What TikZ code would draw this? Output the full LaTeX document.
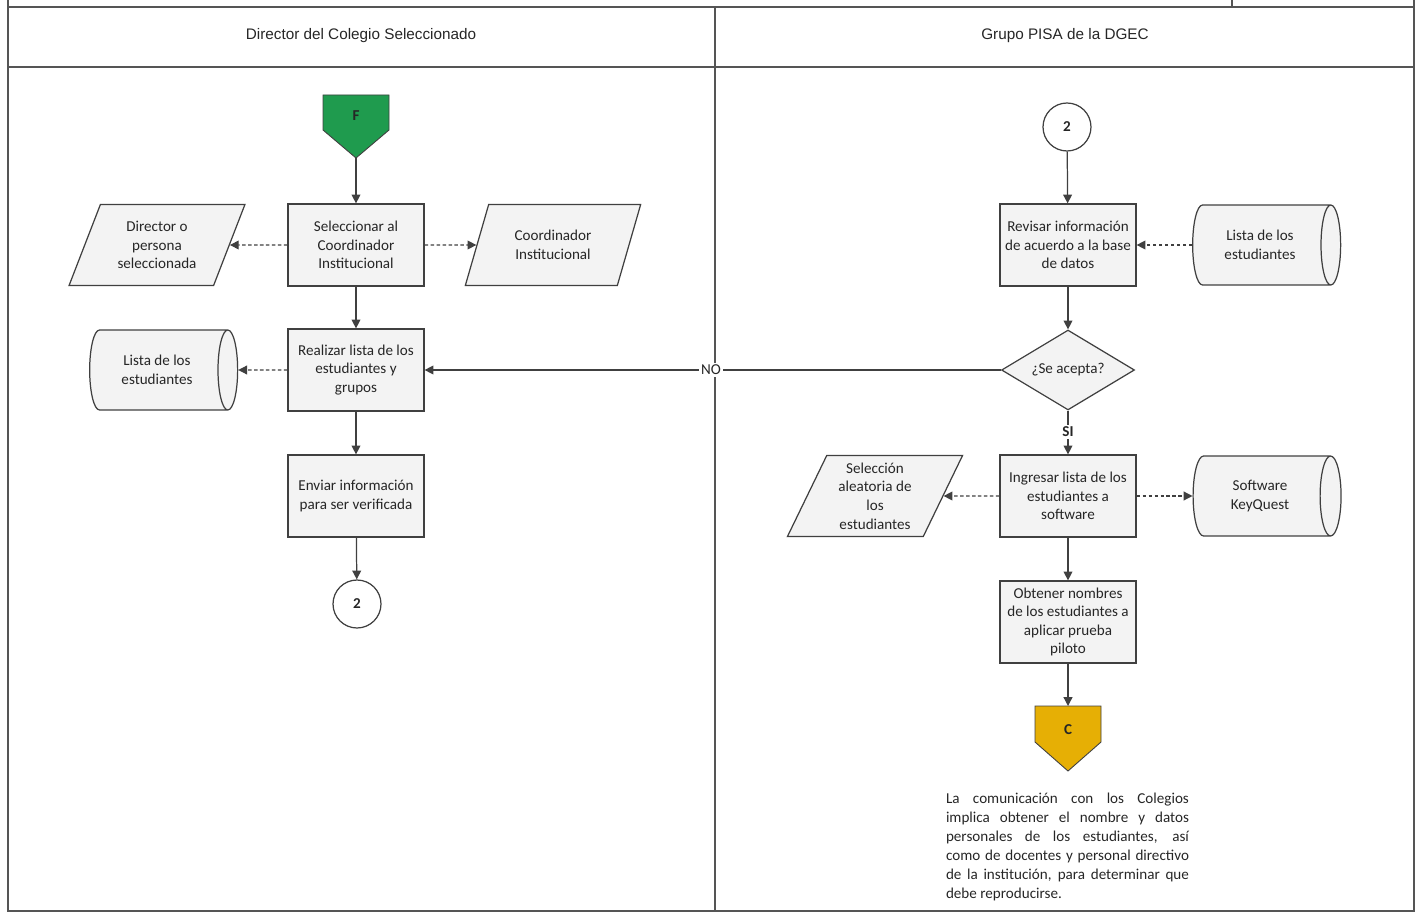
\documentclass[tikz,border=0pt]{standalone}
\usepackage{fontspec}
\setmainfont{Carlito}
\newfontfamily\hdrfont{Liberation Sans}
\usetikzlibrary{shapes.geometric,arrows.meta,calc}
\definecolor{ln}{HTML}{404040}
\definecolor{frame}{HTML}{555555}
\definecolor{boxfill}{HTML}{F3F3F3}
\definecolor{startgreen}{HTML}{1F9B4E}
\definecolor{endgold}{HTML}{E6AF05}
\definecolor{txt}{HTML}{262626}
\begin{document}
\begin{tikzpicture}[x=0.02cm,y=-0.02cm,
  font=\fontsize{8.6}{10.6}\selectfont, text=txt,
  lane/.style={draw=frame, line width=0.8pt},
  hdr/.style={font=\hdrfont\fontsize{8.7}{10}\selectfont, inner sep=1pt},
  proc/.style={draw=ln, line width=0.7pt, fill=boxfill, minimum width=2.72cm,
    minimum height=1.64cm, align=center, inner sep=1pt},
  data/.style={trapezium, trapezium left angle=66, trapezium right angle=114,
    trapezium stretches=true, draw=ln, line width=0.7pt, fill=boxfill,
    minimum width=3.52cm, minimum height=1.62cm, align=center, inner sep=1pt},
  store/.style={cylinder, shape border rotate=0, aspect=0.6, draw=ln, line width=0.7pt,
    cylinder uses custom fill, cylinder body fill=boxfill, cylinder end fill=boxfill,
    minimum height=2.96cm, minimum width=1.6cm, align=center, inner sep=1pt},
  decision/.style={diamond, draw=ln, line width=0.7pt, fill=boxfill,
    minimum width=2.66cm, minimum height=1.6cm, inner sep=0pt, aspect=1.66},
  conn/.style={circle, draw=ln, line width=0.7pt, fill=white, minimum size=0.96cm,
    inner sep=0pt, font=\bfseries\fontsize{8.6}{9}\selectfont},
  offpage/.style={draw=ln, line width=0.5pt},
  flow/.style={draw=ln, line width=0.7pt, -{Triangle[length=5pt,width=5pt]}},
  info/.style={flow, dash pattern=on 2pt off 1.4pt},
  lbl/.style={fill=white, inner sep=1pt, font=\fontsize{8.6}{9}\selectfont}
]
\useasboundingbox (0,0) rectangle (1417,912);

% swimlane frame
\draw[lane] (8,0) -- (8,912);
\draw[lane] (1414,0) -- (1414,912);
\draw[lane] (1232,0) -- (1232,7);
\draw[lane] (8,7) -- (1414,7);
\draw[lane] (8,67) -- (1414,67);
\draw[lane] (8,911) -- (1414,911);
\draw[lane] (715,7) -- (715,912);
\node[hdr] (hA) at (361,36) {Director del Colegio Seleccionado};
\node[hdr] (hB) at (1065,36) {Grupo PISA de la DGEC};

% start connector (green)
\draw[offpage, fill=startgreen] (323,95) -- (389,95) -- (389,130) -- (356,158) -- (323,130) -- cycle;
\node[font=\bfseries\fontsize{8.6}{9}\selectfont] (F) at (356,116) {F};
\coordinate (Ftip) at (356,158);

% left lane
\node[proc] (sel) at (356,245) {Seleccionar al\\Coordinador\\Institucional};
\node[data] (dir) at (157,245) {Director o\\persona\\seleccionada};
\node[data] (coord) at (553,245) {Coordinador\\Institucional};
\node[proc] (real) at (356,370) {Realizar lista de los\\estudiantes y\\grupos};
\node[store] (listaA) at (157,370) {Lista de los\\estudiantes};
\node[proc] (env) at (356,496) {Enviar información\\para ser verificada};
\node[conn] (conA) at (357,604) {2};

% right lane
\node[conn] (conB) at (1067,127) {2};
\node[proc] (rev) at (1068,245) {Revisar información\\de acuerdo a la base\\de datos};
\node[store] (listaB) at (1260,245) {Lista de los\\estudiantes};
\node[decision] (dec) at (1068,370) {¿Se acepta?};
\node[proc] (ing) at (1068,496) {Ingresar lista de los\\estudiantes a\\software};
\node[data] (sal) at (875,496) {Selección\\aleatoria de\\los\\estudiantes};
\node[store] (soft) at (1260,496) {Software\\KeyQuest};
\node[proc] (obt) at (1068,622) {Obtener nombres\\de los estudiantes a\\aplicar prueba\\piloto};

% end connector (gold)
\draw[offpage, fill=endgold] (1035,706) -- (1101,706) -- (1101,742) -- (1068,771) -- (1035,742) -- cycle;
\node[font=\bfseries\fontsize{8.6}{9}\selectfont] (C) at (1068,730) {C};
\coordinate (Ctop) at (1068,706);

% note
\node[text width=4.86cm, align=justify, inner sep=0pt, font=\fontsize{8.6}{10.8}\selectfont] (nota) at (1067.5,847)
 {La comunicación con los Colegios\linebreak implica obtener el nombre y datos\linebreak personales de los estudiantes, así\linebreak como de docentes y personal directivo\linebreak de la institución, para determinar que\linebreak debe reproducirse.};

% connectors
\draw[flow] (Ftip) -- (sel);
\draw[info] (sel) -- (dir);
\draw[info] (sel) -- (coord);
\draw[flow] (sel) -- (real);
\draw[info] (real) -- (listaA);
\draw[flow] (real) -- (env);
\draw[flow] (env) -- (conA);
\draw[flow] (conB) -- (rev);
\draw[info] (listaB) -- (rev);
\draw[flow] (rev) -- (dec);
\draw[flow] (dec) -- node[lbl, pos=0.503] (no) {NO} (real);
\draw[flow] (dec) -- node[lbl, pos=0.49, font=\bfseries\fontsize{8.6}{9}\selectfont] (si) {SI} (ing);
\draw[info] (ing) -- (sal);
\draw[info] (ing) -- (soft);
\draw[flow] (ing) -- (obt);
\draw[flow] (obt) -- (Ctop);
\end{tikzpicture}
\end{document}
